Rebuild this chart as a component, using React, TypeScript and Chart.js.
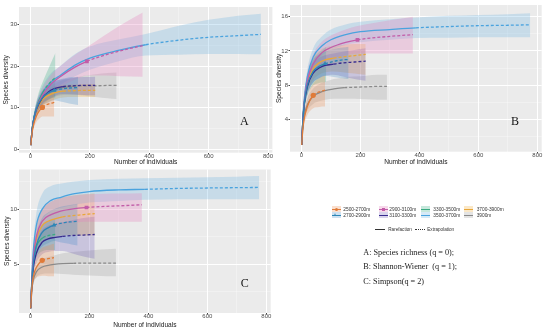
import React, { useEffect, useRef } from "react";
import { Chart, registerables } from "chart.js";

Chart.register(...registerables);

const SANS = "'Liberation Sans', Arial, sans-serif";
const SERIF = "'Liberation Serif', 'Times New Roman', serif";

const GROUPS = ["2500-2700m", "2700-2900m", "2900-3100m", "3100-3300m", "3300-3500m", "3500-3700m", "3700-3900m", "3900m"];
const LINE_COLORS = ["#E07B39", "#2C86B6", "#C25CA8", "#372A8E", "#3BAA82", "#4AA3DE", "#E8A73A", "#8A8A8A"];
const BAND_COLORS = [
  "rgba(236,140,80,0.28)",
  "rgba(50,130,195,0.24)",
  "rgba(230,130,190,0.30)",
  "rgba(90,70,175,0.24)",
  "rgba(70,180,140,0.30)",
  "rgba(95,172,226,0.26)",
  "rgba(242,178,70,0.30)",
  "rgba(150,150,150,0.26)",
];
const MARKERS = ["circle", "triangle", "rect", "", "", "", "", ""];

// sample sizes (number of individuals) per group
const N_2500 = [1, 5, 10, 20, 30, 40, 50, 60, 70, 80];
const N_2700 = [1, 5, 10, 20, 40, 60, 80, 100, 120, 140, 160];
const N_2900 = [1, 5, 10, 20, 40, 70, 100, 150, 190, 250, 300, 378];
const N_3100 = [1, 5, 10, 20, 40, 60, 80, 109, 140, 180, 218];
const N_3300 = [1, 5, 10, 20, 30, 42, 55, 70, 84];
const N_3500 = [1, 5, 10, 20, 40, 70, 100, 150, 200, 300, 388, 500, 600, 700, 776];
const N_3700 = [1, 5, 10, 20, 40, 60, 80, 109, 140, 180, 218];
const N_3900 = [1, 5, 10, 20, 40, 60, 80, 110, 145, 180, 220, 260, 290];
const SAMPLE_SIZES = [N_2500, N_2700, N_2900, N_3100, N_3300, N_3500, N_3700, N_3900];
const OBSERVED_N = [40, 80, 190, 109, 42, 388, 109, 145];

// A: species richness (q = 0)
const A_EST = [
  [1, 3.8, 5.8, 8, 9.3, 10.1, 10.6, 10.9, 11.1, 11.3],
  [1, 4.4, 6.9, 9.8, 12.4, 13.6, 14.2, 14.5, 14.7, 14.8, 14.9],
  [1, 4.3, 6.8, 9.8, 13, 15.8, 17.5, 19.8, 21.2, 22.7, 23.7, 25],
  [1, 4.3, 6.8, 9.6, 12.4, 13.8, 14.6, 15.1, 15.3, 15.4, 15.4],
  [1, 4.4, 7, 10, 12, 13.8, 15.2, 16.4, 17.3],
  [1, 4.5, 7, 10, 13.5, 16.3, 17.8, 20.3, 22, 23.9, 25.2, 26.3, 27, 27.4, 27.7],
  [1, 4.2, 6.6, 9.3, 11.9, 13, 13.6, 14, 14.1, 14.2, 14.2],
  [1, 4.2, 6.6, 9.3, 12, 13.4, 14.2, 14.9, 15.2, 15.3, 15.3, 15.4, 15.4],
];
const A_LO = [
  [1, 3.3, 5, 6.6, 7.4, 7.9, 7.9, 7.9, 7.9, 7.9],
  [1, 3.8, 6, 8.4, 10.6, 11.3, 11.8, 11.5, 11.2, 10.9, 10.7],
  [1, 3.8, 6, 8.5, 11.3, 13.6, 15, 16.8, 17.8, 17.8, 17.6, 17.5],
  [1, 3.8, 6, 8.4, 10.8, 12, 12.8, 13.3, 13.2, 13.1, 13],
  [1, 3.8, 6, 8.4, 9.8, 11.2, 11.8, 12.3, 12.5],
  [1, 4, 6.2, 8.8, 11.8, 14.2, 15.5, 17.6, 19.2, 21.3, 22.6, 22.8, 23, 23, 22.9],
  [1, 3.7, 5.8, 8.1, 10.4, 11.4, 12, 12.5, 12.6, 12.6, 12.6],
  [1, 3.7, 5.8, 8.1, 10.5, 11.8, 12.6, 13.1, 13.2, 12.9, 12.6, 12.3, 12.1],
];
const A_HI = [
  [1, 4.3, 6.6, 9.4, 11.2, 12.3, 13, 13.6, 14.1, 14.4],
  [1, 5, 7.8, 11.2, 14.2, 15.5, 16.4, 16.9, 17.2, 17.4, 17.5],
  [1, 4.8, 7.6, 11.1, 14.7, 18, 20, 22.8, 24.6, 27.5, 29.8, 33],
  [1, 4.8, 7.6, 10.8, 14, 15.6, 16.4, 16.9, 17.2, 17.4, 17.5],
  [1, 5, 8, 11.6, 14.2, 16.4, 18.6, 21, 23.2],
  [1, 5, 7.8, 11.2, 15.2, 18.4, 20.1, 23, 24.8, 26.5, 27.8, 29.8, 31.2, 32.2, 32.7],
  [1, 4.7, 7.4, 10.5, 13.4, 14.6, 15.2, 15.5, 15.6, 15.7, 15.7],
  [1, 4.7, 7.4, 10.5, 13.5, 15, 15.8, 16.7, 17.2, 17.7, 18.1, 18.4, 18.5],
];

// B: Shannon-Wiener (q = 1)
const B_EST = [
  [1, 3, 4.2, 5.5, 6.3, 6.8, 7.05, 7.2, 7.3, 7.4],
  [1, 3.9, 6, 8, 9.6, 10.2, 10.5, 10.7, 10.85, 10.95, 11],
  [1, 4, 6.2, 8.5, 10.5, 11.8, 12.4, 13, 13.3, 13.55, 13.7, 13.9],
  [1, 3.8, 5.8, 7.8, 9.4, 10, 10.3, 10.45, 10.6, 10.7, 10.8],
  [1, 3.9, 5.9, 7.9, 8.9, 9.6, 10, 10.3, 10.5],
  [1, 4.2, 6.5, 9, 11.3, 12.6, 13.3, 13.9, 14.25, 14.5, 14.7, 14.85, 14.95, 15, 15.05],
  [1, 3.9, 6, 8.1, 9.9, 10.6, 10.95, 11.15, 11.3, 11.45, 11.6],
  [1, 3.2, 4.5, 5.7, 6.7, 7.1, 7.35, 7.55, 7.7, 7.75, 7.8, 7.85, 7.85],
];
const B_LO = [
  [1, 2.6, 3.5, 4.5, 5, 5.3, 5.4, 5.45, 5.5, 5.5],
  [1, 3.4, 5.2, 6.9, 8.3, 8.8, 9.1, 9, 8.9, 8.8, 8.7],
  [1, 3.6, 5.6, 7.6, 9.4, 10.5, 11, 11.5, 11.7, 11.7, 11.7, 11.7],
  [1, 3.4, 5.2, 6.9, 8.3, 8.8, 9.1, 9.2, 9, 8.7, 8.5],
  [1, 3.4, 5.1, 6.7, 7.5, 8, 8.2, 8.3, 8.4],
  [1, 3.8, 5.9, 8.2, 10.3, 11.5, 12.1, 12.7, 13, 13.3, 13.5, 13.55, 13.6, 13.6, 13.6],
  [1, 3.5, 5.3, 7.1, 8.6, 9.2, 9.5, 9.6, 9.5, 9.35, 9.2],
  [1, 2.9, 4, 5, 5.8, 6.1, 6.3, 6.4, 6.4, 6.4, 6.35, 6.3, 6.3],
];
const B_HI = [
  [1, 3.4, 4.9, 6.5, 7.6, 8.2, 8.6, 8.8, 9, 9.1],
  [1, 4.4, 6.8, 9.1, 10.9, 11.6, 11.9, 12.1, 12.3, 12.4, 12.5],
  [1, 4.4, 6.8, 9.4, 11.6, 13.1, 13.8, 14.5, 14.9, 15.3, 15.6, 16],
  [1, 4.2, 6.4, 8.7, 10.5, 11.2, 11.5, 11.7, 11.9, 12.1, 12.3],
  [1, 4.4, 6.7, 9.1, 10.3, 11.2, 11.7, 12.1, 12.5],
  [1, 4.6, 7.1, 9.8, 12.3, 13.7, 14.5, 15.1, 15.4, 15.7, 15.9, 16.1, 16.2, 16.3, 16.4],
  [1, 4.3, 6.7, 9.1, 11.2, 12, 12.4, 12.6, 12.7, 12.8, 12.8],
  [1, 3.5, 5, 6.4, 7.6, 8.1, 8.4, 8.7, 8.9, 9, 9.1, 9.2, 9.2],
];

// C: Simpson (q = 2)
const C_EST = [
  [1, 2.9, 3.9, 4.7, 5.1, 5.35, 5.45, 5.5, 5.55, 5.6],
  [1, 3.4, 5.1, 6.7, 7.9, 8.3, 8.55, 8.7, 8.8, 8.85, 8.9],
  [1, 3.6, 5.6, 7.5, 8.9, 9.5, 9.8, 10.05, 10.15, 10.25, 10.3, 10.4],
  [1, 3.2, 4.7, 6, 7, 7.3, 7.42, 7.52, 7.6, 7.65, 7.7],
  [1, 3.5, 5.2, 6.6, 7.1, 7.4, 7.55, 7.65, 7.7],
  [1, 4, 6.3, 8.5, 10, 10.8, 11.05, 11.4, 11.6, 11.75, 11.8, 11.88, 11.92, 11.95, 11.97],
  [1, 3.5, 5.4, 7.2, 8.5, 8.9, 9.1, 9.3, 9.4, 9.5, 9.6],
  [1, 2.7, 3.6, 4.3, 4.75, 4.9, 4.98, 5.05, 5.08, 5.1, 5.1, 5.1, 5.1],
];
const C_LO = [
  [1, 2.5, 3.3, 3.8, 3.9, 3.95, 3.95, 3.9, 3.9, 3.9],
  [1, 3, 4.4, 5.7, 6.6, 6.9, 7.1, 7, 6.9, 6.8, 6.7],
  [1, 3.2, 5, 6.6, 7.8, 8.3, 8.6, 8.8, 8.85, 8.85, 8.85, 8.85],
  [1, 2.8, 4.1, 5.1, 5.9, 6.1, 6.2, 6.2, 6, 5.7, 5.5],
  [1, 3.1, 4.5, 5.6, 6, 6.2, 6.3, 6.3, 6.3],
  [1, 3.6, 5.6, 7.6, 9, 9.8, 10.1, 10.4, 10.6, 10.75, 10.85, 10.9, 10.9, 10.9, 10.9],
  [1, 3, 4.6, 6, 7, 7.4, 7.5, 7.6, 7.6, 7.6, 7.6],
  [1, 2.4, 3.2, 3.8, 4.1, 4.15, 4.15, 4.1, 4.05, 4, 3.95, 3.9, 3.9],
];
const C_HI = [
  [1, 3.3, 4.5, 5.6, 6.2, 6.5, 6.6, 6.7, 6.8, 6.85],
  [1, 3.8, 5.8, 7.7, 9.2, 9.7, 10, 10.2, 10.3, 10.4, 10.5],
  [1, 4, 6.2, 8.4, 10, 10.7, 11, 11.25, 11.35, 11.4, 11.42, 11.45],
  [1, 3.6, 5.3, 6.9, 8.1, 8.5, 8.6, 8.8, 9, 9.2, 9.3],
  [1, 3.9, 5.9, 7.6, 8.2, 8.6, 8.8, 9, 9.1],
  [1, 4.4, 7, 9.6, 11.4, 12.1, 12.3, 12.5, 12.65, 12.75, 12.8, 12.85, 12.9, 12.95, 13],
  [1, 4, 6.2, 8.4, 10, 10.5, 10.8, 11.1, 11.25, 11.35, 11.45],
  [1, 3, 4, 4.8, 5.4, 5.65, 5.8, 6, 6.1, 6.2, 6.3, 6.35, 6.4],
];

const X_TICKS = [0, 200, 400, 600, 800];
const X_MINOR = [100, 300, 500, 700];
const A_Y_TICKS = [0, 10, 20, 30];
const A_Y_MINOR = [5, 15, 25];
const B_Y_TICKS = [4, 8, 12, 16];
const B_Y_MINOR = [2, 6, 10, 14];
const C_Y_TICKS = [5, 10];
const C_Y_MINOR = [2.5, 7.5, 12.5];

const X_MIN = -38.75;
const X_MAX = 814.8;

type PanelCfg = {
  left: number; top: number; w: number; h: number;
  padR: number; padT: number; yW: number; xH: number;
  yMin: number; yMax: number; yTicks: number[]; yMinor: number[];
  yTitlePad: number; xTitlePad: number;
  est: number[][]; lo: number[][]; hi: number[][];
};

const PANELS: PanelCfg[] = [
  { left: 0, top: 0, w: 275, h: 166, padR: 2.6, padT: 7, yW: 19, xH: 13.3, yMin: -0.82, yMax: 34.3, yTicks: A_Y_TICKS, yMinor: A_Y_MINOR, yTitlePad: 2.7, xTitlePad: 0.4, est: A_EST, lo: A_LO, hi: A_HI },
  { left: 275, top: 0, w: 275, h: 166, padR: 8.3, padT: 5, yW: 15, xH: 14.3, yMin: 0.21, yMax: 17.37, yTicks: B_Y_TICKS, yMinor: B_Y_MINOR, yTitlePad: 0.7, xTitlePad: 0.4, est: B_EST, lo: B_LO, hi: B_HI },
  { left: 0, top: 166, w: 275, h: 166, padR: 4.3, padT: 3.5, yW: 19, xH: 19, yMin: 0.57, yMax: 13.6, yTicks: C_Y_TICKS, yMinor: C_Y_MINOR, yTitlePad: 3.4, xTitlePad: 3.4, est: C_EST, lo: C_LO, hi: C_HI },
];

function buildDatasets(est: number[][], lo: number[][], hi: number[][]) {
  const lines = GROUPS.map((g, i) => {
    const ns = SAMPLE_SIZES[i];
    const obsIdx = ns.indexOf(OBSERVED_N[i]);
    return {
      label: g,
      data: ns.map((n, k) => ({ x: n, y: est[i][k] })),
      borderColor: LINE_COLORS[i],
      backgroundColor: LINE_COLORS[i],
      borderWidth: 1.3,
      cubicInterpolationMode: "monotone",
      fill: false,
      pointRadius: ns.map((_, k) => (k === obsIdx && MARKERS[i] ? 2.6 : 0)),
      pointStyle: MARKERS[i] || "circle",
      pointBackgroundColor: LINE_COLORS[i],
      pointBorderColor: LINE_COLORS[i],
      pointBorderWidth: 0,
      segment: { borderDash: (c: any) => (c.p0DataIndex >= obsIdx ? [3, 2] : undefined) },
      order: 0,
    };
  });
  const bands: any[] = [];
  GROUPS.forEach((g, i) => {
    const ns = SAMPLE_SIZES[i];
    const lowerIndex = GROUPS.length + bands.length;
    bands.push({
      label: g + " lower",
      data: ns.map((n, k) => ({ x: n, y: lo[i][k] })),
      borderColor: "rgba(0,0,0,0)",
      borderWidth: 0,
      pointRadius: 0,
      fill: false,
      cubicInterpolationMode: "monotone",
      order: 1,
    });
    bands.push({
      label: g + " upper",
      data: ns.map((n, k) => ({ x: n, y: hi[i][k] })),
      borderColor: "rgba(0,0,0,0)",
      borderWidth: 0,
      pointRadius: 0,
      fill: { target: lowerIndex },
      backgroundColor: BAND_COLORS[i],
      cubicInterpolationMode: "monotone",
      order: 1,
    });
  });
  return [...lines, ...bands];
}

const panelBg = {
  id: "panelBg",
  beforeDraw(chart: any) {
    const { ctx, chartArea } = chart;
    ctx.save();
    ctx.fillStyle = "#EBEBEB";
    ctx.fillRect(chartArea.left, chartArea.top, chartArea.right - chartArea.left, chartArea.bottom - chartArea.top);
    ctx.restore();
  },
};

function axisGrid(major: number[]) {
  return {
    color: (c: any) => (c.tick && major.includes(c.tick.value) ? "#FFFFFF" : "rgba(255,255,255,0.6)"),
    lineWidth: (c: any) => (c.tick && major.includes(c.tick.value) ? 1 : 0.5),
    tickColor: (c: any) => (c.tick && major.includes(c.tick.value) ? "#444444" : "rgba(0,0,0,0)"),
    tickLength: 1.5,
    drawTicks: true,
  };
}

function buildConfig(p: PanelCfg): any {
  return {
    type: "line",
    data: { datasets: buildDatasets(p.est, p.lo, p.hi) },
    plugins: [panelBg],
    options: {
      responsive: false,
      animation: false,
      events: [],
      layout: { padding: { left: 0, right: p.padR, top: p.padT, bottom: 0 } },
      plugins: { legend: { display: false }, tooltip: { enabled: false } },
      scales: {
        x: {
          type: "linear",
          min: X_MIN,
          max: X_MAX,
          afterBuildTicks: (s: any) => {
            s.ticks = [...X_TICKS, ...X_MINOR].sort((a, b) => a - b).map((v) => ({ value: v }));
          },
          afterFit: (s: any) => {
            s.height = p.xH;
            s.paddingLeft = 0;
            s.paddingRight = 0;
          },
          ticks: {
            autoSkip: false,
            maxRotation: 0,
            minRotation: 0,
            padding: -1,
            color: "#4D4D4D",
            font: { family: SANS, size: 6, lineHeight: 1 },
            callback: (v: number) => (X_TICKS.includes(v) ? String(v) : ""),
          },
          grid: axisGrid(X_TICKS),
          border: { display: false },
          title: {
            display: true,
            text: "Number of individuals",
            color: "#1A1A1A",
            font: { family: SANS, size: 6.6, lineHeight: 1 },
            padding: { top: 0, bottom: p.xTitlePad },
          },
        },
        y: {
          type: "linear",
          min: p.yMin,
          max: p.yMax,
          afterBuildTicks: (s: any) => {
            s.ticks = [...p.yTicks, ...p.yMinor].sort((a, b) => a - b).map((v) => ({ value: v }));
          },
          afterFit: (s: any) => {
            s.width = p.yW;
            s.paddingTop = 0;
            s.paddingBottom = 0;
          },
          ticks: {
            autoSkip: false,
            padding: 0.5,
            color: "#4D4D4D",
            font: { family: SANS, size: 6, lineHeight: 1 },
            callback: (v: number) => (p.yTicks.includes(v) ? String(v) : ""),
          },
          grid: axisGrid(p.yTicks),
          border: { display: false },
          title: {
            display: true,
            text: "Species diversity",
            color: "#1A1A1A",
            font: { family: SANS, size: 6.6, lineHeight: 1 },
            padding: { top: p.yTitlePad, bottom: 0 },
          },
        },
      },
    },
  };
}

function Panel({ cfg }: { cfg: PanelCfg }) {
  const ref = useRef<HTMLCanvasElement>(null);
  useEffect(() => {
    const chart = new Chart(ref.current as HTMLCanvasElement, buildConfig(cfg));
    return () => chart.destroy();
  }, [cfg]);
  return (
    <canvas
      ref={ref}
      width={cfg.w}
      height={cfg.h}
      style={{ position: "absolute", left: cfg.left, top: cfg.top, width: cfg.w, height: cfg.h }}
    />
  );
}

function Marker({ shape, color }: { shape: string; color: string }) {
  if (shape === "circle")
    return <div style={{ position: "absolute", left: 3, top: 1.3, width: 3, height: 3, borderRadius: "50%", background: color }} />;
  if (shape === "rect")
    return <div style={{ position: "absolute", left: 3, top: 1.3, width: 3, height: 3, background: color }} />;
  if (shape === "triangle")
    return (
      <div
        style={{
          position: "absolute", left: 2.7, top: 0.9, width: 0, height: 0,
          borderLeft: "1.8px solid transparent", borderRight: "1.8px solid transparent",
          borderBottom: `3.2px solid ${color}`,
        }}
      />
    );
  return null;
}

const LEGEND_KEY_X = [331.5, 378.5, 420.5, 464];
const LEGEND_TEXT_X = [343.3, 389.3, 433.3, 476.7];
const LEGEND_ROW_Y = [209, 215];

function Legend() {
  const items = GROUPS.map((g, i) => {
    const col = Math.floor(i / 2);
    const row = i % 2;
    const cy = LEGEND_ROW_Y[row];
    return (
      <React.Fragment key={g}>
        <div style={{ position: "absolute", left: LEGEND_KEY_X[col], top: cy - 2.75, width: 9, height: 5.5, background: BAND_COLORS[i] }}>
          <div style={{ position: "absolute", left: 0, right: 0, top: 2.25, height: 1, background: LINE_COLORS[i] }} />
          <Marker shape={MARKERS[i]} color={LINE_COLORS[i]} />
        </div>
        <div style={{ position: "absolute", left: LEGEND_TEXT_X[col], top: cy - 2.5, fontFamily: SANS, fontSize: 4.8, lineHeight: "5px", color: "#333", whiteSpace: "nowrap" }}>
          {g}
        </div>
      </React.Fragment>
    );
  });
  return (
    <>
      {items}
      <div style={{ position: "absolute", left: 375, top: 228.6, width: 10, height: 1.5, background: "#333" }} />
      <div style={{ position: "absolute", left: 388.3, top: 226.8, fontFamily: SANS, fontSize: 4.6, lineHeight: "5px", color: "#333", whiteSpace: "nowrap" }}>Rarefaction</div>
      <div style={{ position: "absolute", left: 415, top: 228.6, width: 10, height: 0, borderTop: "1.5px dotted #333" }} />
      <div style={{ position: "absolute", left: 427.3, top: 226.8, fontFamily: SANS, fontSize: 4.6, lineHeight: "5px", color: "#333", whiteSpace: "nowrap" }}>Extrapolation</div>
    </>
  );
}

const NOTES = ["A: Species richness (q = 0);", "B: Shannon-Wiener\u00a0 (q = 1);", "C: Simpson(q = 2)"];
const NOTE_TOPS = [249, 263.4, 277.7];

const LETTERS = [
  { t: "A", x: 240, y: 115 },
  { t: "B", x: 511, y: 115 },
  { t: "C", x: 240.7, y: 277.4 },
];

export default function App() {
  return (
    <div style={{ position: "fixed", left: 0, top: 0, width: 550, height: 332, background: "#FFFFFF", overflow: "hidden" }}>
      {PANELS.map((p, i) => (
        <Panel key={i} cfg={p} />
      ))}
      {LETTERS.map((l) => (
        <div key={l.t} style={{ position: "absolute", left: l.x, top: l.y, fontFamily: SERIF, fontSize: 12, lineHeight: "12px", color: "#111" }}>
          {l.t}
        </div>
      ))}
      <Legend />
      {NOTES.map((n, i) => (
        <div key={i} style={{ position: "absolute", left: 363.3, top: NOTE_TOPS[i], fontFamily: SERIF, fontSize: 8.2, lineHeight: "8px", color: "#222", whiteSpace: "pre" }}>
          {n}
        </div>
      ))}
    </div>
  );
}
